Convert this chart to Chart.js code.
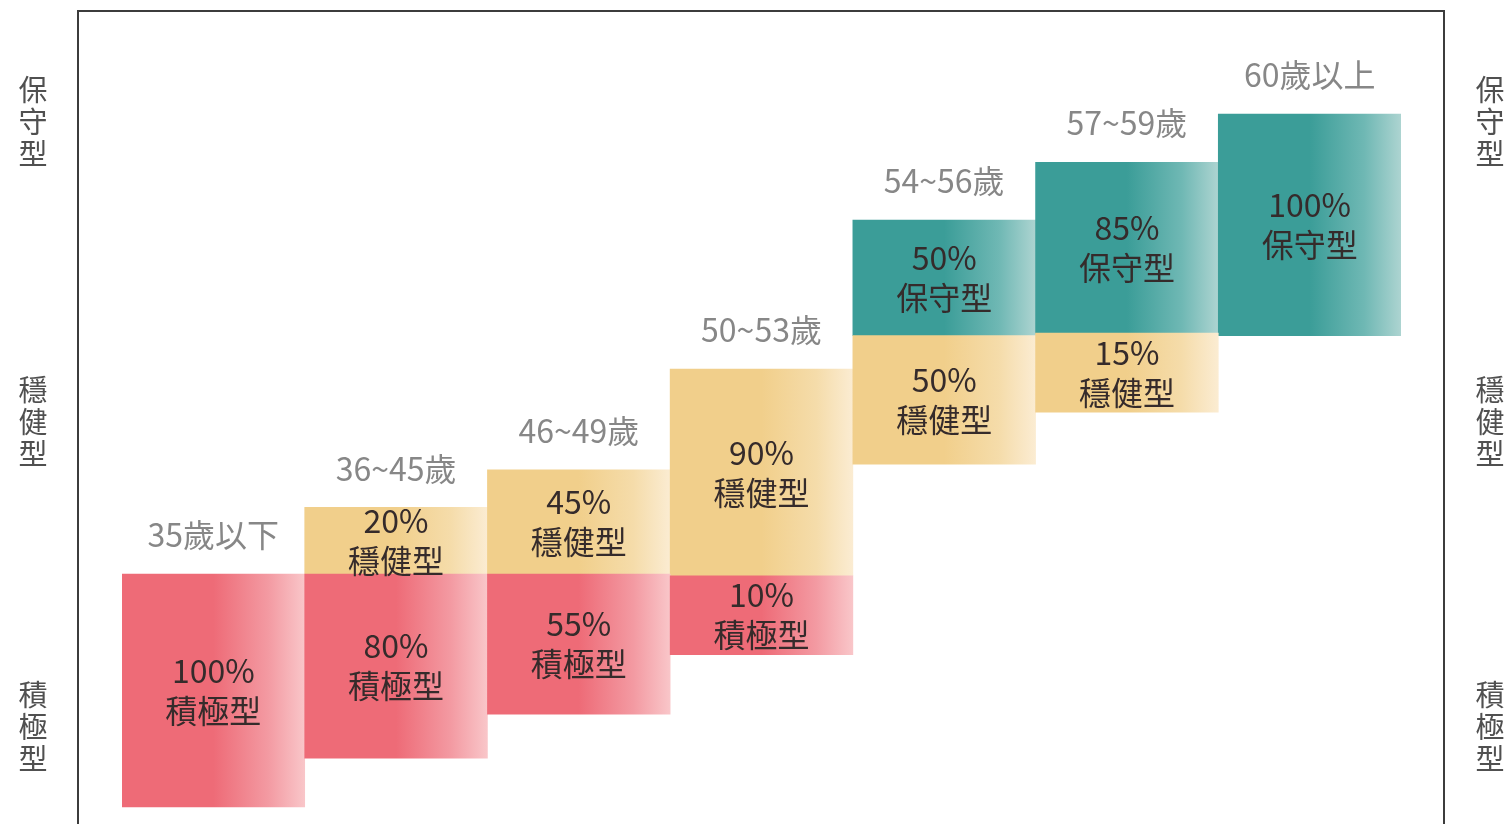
<!DOCTYPE html>
<html>
<head>
<meta charset="utf-8">
<script src="https://cdn.jsdelivr.net/npm/chart.js@4/dist/chart.umd.min.js"></script>
<style>
html,body{margin:0;padding:0;background:#fff;}
#wrap{width:1509px;height:824px;}
</style>
</head>
<body>
<div id="wrap"><canvas id="c" width="1509" height="824"></canvas></div>
<script>
// Categories (age groups)
const categories = ['35歲以下','36~45歲','46~49歲','50~53歲','54~56歲','57~59歲','60歲以上'];
// Floating segment ranges on an arbitrary vertical level scale (0-100)
const aggressiveRange = [[2.1,30.7],[8.1,30.7],[13.5,30.7],[20.8,30.5],null,null,null];
const balancedRange   = [null,[30.7,38.9],[30.7,43.5],[30.5,55.9],[44.2,60.0],[50.6,60.3],null];
const conservRange    = [null,null,null,null,[60.0,74.2],[60.3,81.3],[60.0,87.2]];
// Displayed percentages
const aggressivePct = [100,80,55,10,null,null,null];
const balancedPct   = [null,20,45,90,50,15,null];
const conservPct    = [null,null,null,null,50,85,100];
// Type names
const typeNames = ['積極型','穩健型','保守型'];
// Side label levels (y-scale values) for 保守型 / 穩健型 / 積極型
const sideLabels = ['保守型','穩健型','積極型'];
const sideLevels = [86.2,49.4,11.9];

const FONT = '"Noto Sans CJK TC","Noto Sans CJK SC",sans-serif';

function grad(base, mid, light){
  return function(ctx){
    const chart = ctx.chart;
    const ca = chart.chartArea;
    if(!ca) return base;
    const xs = chart.scales.x;
    const c = xs.getPixelForValue(ctx.dataIndex);
    const half = (ca.right - ca.left) / categories.length / 2;
    const g = chart.ctx.createLinearGradient(c - half, 0, c + half, 0);
    g.addColorStop(0, base);
    g.addColorStop(0.5, base);
    g.addColorStop(0.8, mid);
    g.addColorStop(1, light);
    return g;
  };
}

const pcts = [aggressivePct, balancedPct, conservPct];

const labelPlugin = {
  id: 'labels',
  beforeDraw(chart){
    const ctx = chart.ctx, ca = chart.chartArea;
    ctx.save();
    ctx.strokeStyle = '#3c3c3c';
    ctx.lineWidth = 2;
    ctx.beginPath();
    const l = ca.left - 44, r = ca.right + 43, t = ca.top + 1, b = chart.height + 5;
    ctx.moveTo(l, b); ctx.lineTo(l, t); ctx.lineTo(r, t); ctx.lineTo(r, b);
    ctx.stroke();
    // side labels
    ctx.fillStyle = '#505050';
    ctx.font = '29px ' + FONT;
    ctx.textAlign = 'center';
    ctx.textBaseline = 'middle';
    const ys = chart.scales.y;
    sideLabels.forEach((s, i) => {
      const cy = ys.getPixelForValue(sideLevels[i]);
      const chars = Array.from(s);
      const step = 32;
      chars.forEach((ch, k) => {
        const y = cy + (k - (chars.length - 1) / 2) * step;
        ctx.fillText(ch, 33, y);
        ctx.fillText(ch, chart.width - 19, y);
      });
    });
    ctx.restore();
  },
  afterDatasetsDraw(chart){
    const ctx = chart.ctx;
    ctx.save();
    ctx.textAlign = 'center';
    ctx.textBaseline = 'middle';
    const tops = categories.map(() => Infinity);
    chart.data.datasets.forEach((ds, di) => {
      const meta = chart.getDatasetMeta(di);
      meta.data.forEach((el, i) => {
        if (ds.data[i] == null) return;
        const top = Math.min(el.y, el.base), bot = Math.max(el.y, el.base);
        tops[i] = Math.min(tops[i], top);
        const cy = (top + bot) / 2;
        ctx.fillStyle = '#352b2b';
        ctx.font = '32px ' + FONT;
        ctx.fillText(pcts[di][i] + '%', el.x, cy - 20);
        ctx.fillText(typeNames[di], el.x, cy + 20);
      });
    });
    ctx.fillStyle = '#878787';
    ctx.font = '32px ' + FONT;
    const xs = chart.scales.x;
    categories.forEach((c, i) => {
      ctx.fillText(c, xs.getPixelForValue(i), tops[i] - 39);
    });
    ctx.restore();
  }
};

new Chart(document.getElementById('c'), {
  type: 'bar',
  data: {
    labels: categories,
    datasets: [
      {label:'積極型', data: aggressiveRange, backgroundColor: grad('#ee6b77','#f39aa2','#f9c6c9')},
      {label:'穩健型', data: balancedRange, backgroundColor: grad('#f1cf8b','#f5dcaa','#fbecd2')},
      {label:'保守型', data: conservRange, backgroundColor: grad('#3b9d98','#6fb8b4','#add4d1')}
    ]
  },
  options: {
    responsive: false,
    devicePixelRatio: 1,
    animation: false,
    layout: {padding: {left: 122, right: 108, top: 10, bottom: 0}},
    datasets: {bar: {grouped: false, barPercentage: 1, categoryPercentage: 1, borderWidth: 0}},
    scales: {
      x: {display: false},
      y: {display: false, min: 0, max: 100}
    },
    plugins: {legend: {display: false}, tooltip: {enabled: false}}
  },
  plugins: [labelPlugin]
});
</script>
</body>
</html>
